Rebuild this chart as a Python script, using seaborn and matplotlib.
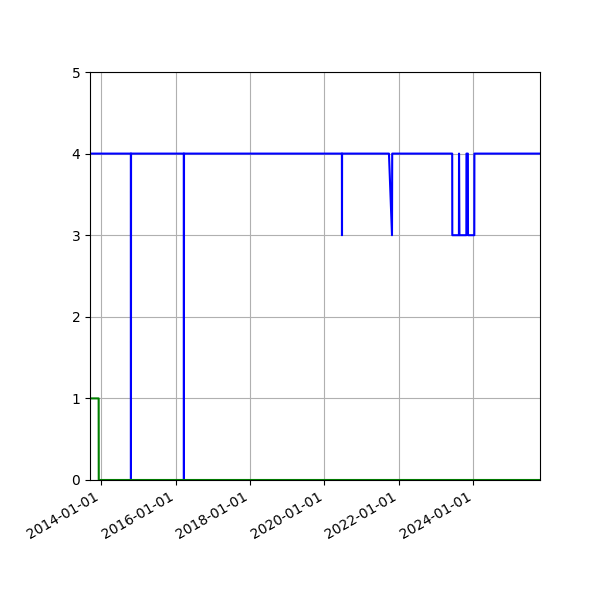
import pandas as pd
import seaborn as sns
import matplotlib
matplotlib.use("Agg")
import matplotlib.pyplot as plt
import matplotlib.dates as mdates

# change points of the two series (value held until the next date)
blue_dates = ['2013-09-12', '2014-10-18', '2014-10-19', '2014-10-20',
              '2016-03-21', '2016-03-22', '2016-03-23',
              '2020-06-20', '2020-06-21', '2020-06-22',
              '2021-09-25', '2021-10-25', '2021-10-27',
              '2023-06-08', '2023-06-09', '2023-08-13', '2023-08-14', '2023-08-18',
              '2023-10-25', '2023-10-26', '2023-11-09', '2023-11-10',
              '2024-01-11', '2024-01-12', '2025-10-17']
blue_values = [4, 4, 0, 4,
               4, 0, 4,
               4, 3, 4,
               4, 3, 4,
               4, 3, 3, 4, 3,
               3, 4, 4, 3,
               3, 4, 4]

green_dates = ['2013-09-12', '2013-12-06', '2013-12-07', '2025-10-17']
green_values = [1, 1, 0, 0]

df = pd.concat([
    pd.DataFrame({'date': pd.to_datetime(blue_dates), 'value': blue_values, 'series': 'b'}),
    pd.DataFrame({'date': pd.to_datetime(green_dates), 'value': green_values, 'series': 'g'}),
])

fig, ax = plt.subplots(figsize=(6, 6), dpi=100)
sns.lineplot(data=df, x='date', y='value', hue='series',
             palette={'b': 'blue', 'g': 'green'}, estimator=None,
             legend=False, ax=ax, linewidth=1.5)

ax.set_xlim(df['date'].min(), df['date'].max())
ax.set_ylim(0, 5)
ax.set_yticks(range(6))
ax.xaxis.set_major_locator(mdates.YearLocator(2))
ax.xaxis.set_major_formatter(mdates.DateFormatter('%Y-%m-%d'))
ax.set_xlabel('')
ax.set_ylabel('')
ax.grid(True)
fig.autofmt_xdate()
fig.subplots_adjust(left=0.15, right=0.9, top=0.88, bottom=0.2)

fig.savefig('out.png', dpi=100)
